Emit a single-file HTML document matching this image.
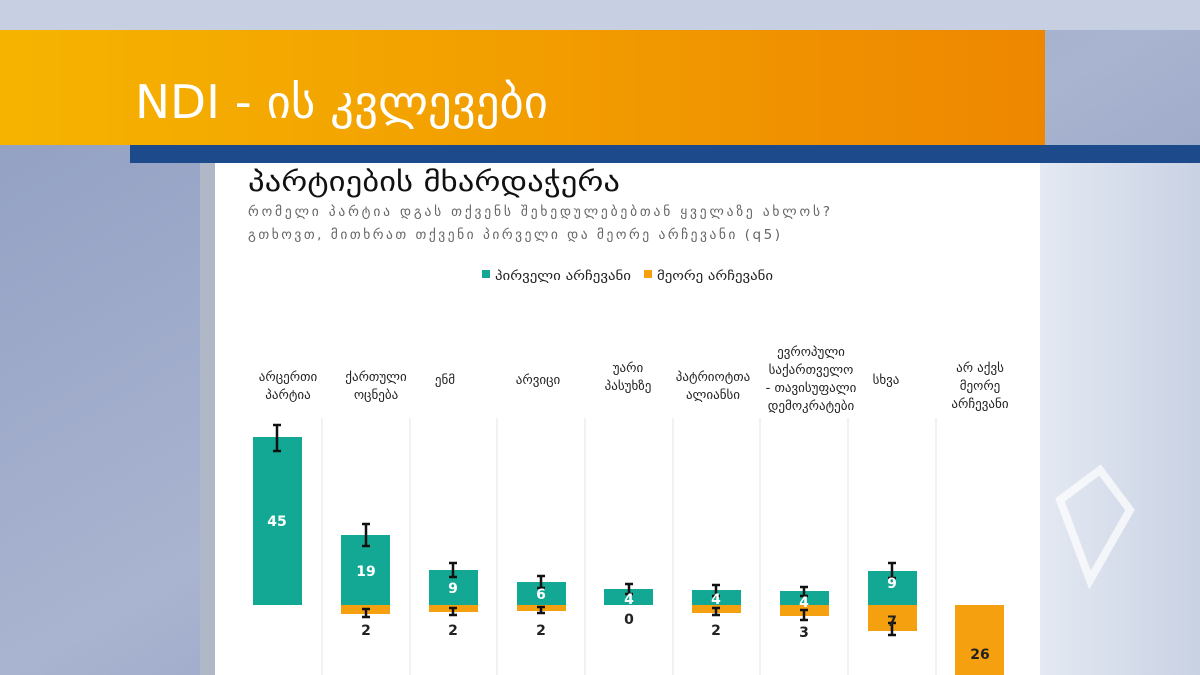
<!DOCTYPE html>
<html><head><meta charset="utf-8"><style>
html,body{margin:0;padding:0;width:1200px;height:675px;overflow:hidden}
svg{display:block}
text{font-family:"DejaVu Sans","Liberation Sans",sans-serif}
</style></head><body>
<svg width="1200" height="675" viewBox="0 0 1200 675" xmlns="http://www.w3.org/2000/svg">
<defs>
<linearGradient id="bg" x1="0" y1="0" x2="1" y2="1">
<stop offset="0" stop-color="#8e9cc0"/><stop offset="0.5" stop-color="#a9b4d0"/><stop offset="1" stop-color="#7f8fb6"/>
</linearGradient>
<linearGradient id="or" x1="0" y1="0" x2="1" y2="0">
<stop offset="0" stop-color="#f6b400"/><stop offset="1" stop-color="#ee8700"/>
</linearGradient>
<linearGradient id="rt" x1="0" y1="0" x2="1" y2="0">
<stop offset="0" stop-color="#e4e9f2"/><stop offset="1" stop-color="#c9d2e4"/>
</linearGradient>
</defs>
<rect width="1200" height="675" fill="url(#bg)"/>
<rect x="0" y="0" width="1200" height="30" fill="#c7cfe2"/>
<rect x="1040" y="145" width="160" height="530" fill="url(#rt)"/>
<path d="M1060 500 L1100 470 L1130 510 L1090 580 Z" fill="none" stroke="#ffffff" stroke-width="8" opacity="0.7"/>
<rect x="0" y="30" width="1045" height="115" fill="url(#or)"/>
<text x="135" y="118" font-size="46" fill="#fff" textLength="413" lengthAdjust="spacingAndGlyphs">NDI - ის კვლევები</text>
<rect x="130" y="145" width="1070" height="18" fill="#1d4a8a"/>
<rect x="200" y="163" width="15" height="512" fill="#b0b7c6"/>
<rect x="215" y="163" width="825" height="512" fill="#ffffff"/>
<text x="248" y="191" font-size="27" fill="#111" textLength="372" lengthAdjust="spacingAndGlyphs">პარტიების მხარდაჭერა</text>
<text x="248" y="216" font-size="13.5" fill="#666" textLength="582" lengthAdjust="spacing">რომელი პარტია დგას თქვენს შეხედულებებთან ყველაზე ახლოს?</text>
<text x="248" y="239" font-size="13.5" fill="#666" textLength="532" lengthAdjust="spacing">გთხოვთ, მითხრათ თქვენი პირველი და მეორე არჩევანი (q5)</text>
<rect x="482" y="270" width="8" height="8" fill="#13a893"/>
<text x="495" y="280" font-size="13" fill="#222" textLength="136" lengthAdjust="spacingAndGlyphs">პირველი არჩევანი</text>
<rect x="644" y="270" width="8" height="8" fill="#f5a00e"/>
<text x="657" y="280" font-size="13" fill="#222" textLength="116" lengthAdjust="spacingAndGlyphs">მეორე არჩევანი</text>
<g stroke="#e6e6e6" stroke-width="1">
<line x1="322" y1="418" x2="322" y2="675"/><line x1="410" y1="418" x2="410" y2="675"/>
<line x1="497" y1="418" x2="497" y2="675"/><line x1="585" y1="418" x2="585" y2="675"/>
<line x1="673" y1="418" x2="673" y2="675"/><line x1="760" y1="418" x2="760" y2="675"/>
<line x1="848" y1="418" x2="848" y2="675"/><line x1="936" y1="418" x2="936" y2="675"/>
</g>
<g font-size="13" fill="#222" text-anchor="middle">
<text x="288" y="381">არცერთი</text><text x="288" y="399">პარტია</text>
<text x="376" y="381">ქართული</text><text x="376" y="399">ოცნება</text>
<text x="445" y="384">ენმ</text>
<text x="538" y="384">არვიცი</text>
<text x="628" y="372">უარი</text><text x="628" y="390">პასუხზე</text>
<text x="713" y="381">პატრიოტთა</text><text x="713" y="399">ალიანსი</text>
<text x="811" y="356">ევროპული</text><text x="811" y="374">საქართველო</text><text x="811" y="392">- თავისუფალი</text><text x="811" y="410">დემოკრატები</text>
<text x="886" y="384">სხვა</text>
<text x="980" y="372">არ აქვს</text><text x="980" y="390">მეორე</text><text x="980" y="408">არჩევანი</text>
</g>
<g fill="#13a893">
<rect x="253" y="437" width="49" height="168"/>
<rect x="341" y="535" width="49" height="70"/>
<rect x="429" y="570" width="49" height="35"/>
<rect x="517" y="582" width="49" height="23"/>
<rect x="604" y="589" width="49" height="16"/>
<rect x="692" y="590" width="49" height="15"/>
<rect x="780" y="591" width="49" height="14"/>
<rect x="868" y="571" width="49" height="34"/>
</g>
<g fill="#f5a00e">
<rect x="341" y="605" width="49" height="9"/>
<rect x="429" y="605" width="49" height="7"/>
<rect x="517" y="605" width="49" height="6"/>
<rect x="692" y="605" width="49" height="8"/>
<rect x="780" y="605" width="49" height="11"/>
<rect x="868" y="605" width="49" height="26"/>
<rect x="955" y="605" width="49" height="70"/>
</g>
<g stroke="#111" stroke-width="2.5">
<path d="M277 425V451M273 425H281M273 451H281"/>
<path d="M366 524V546M362 524H370M362 546H370"/>
<path d="M453 563V577M449 563H457M449 577H457"/>
<path d="M541 576V588M537 576H545M537 588H545"/>
<path d="M629 584V594M625 584H633M625 594H633"/>
<path d="M716 585V596M712 585H720M712 596H720"/>
<path d="M804 587V596M800 587H808M800 596H808"/>
<path d="M892 563V578M888 563H896M888 578H896"/>
<path d="M366 609V617M362 609H370M362 617H370"/>
<path d="M453 608V615M449 608H457M449 615H457"/>
<path d="M541 607V613M537 607H545M537 613H545"/>
<path d="M716 608V615M712 608H720M712 615H720"/>
<path d="M804 610V620M800 610H808M800 620H808"/>
<path d="M892 623V635M888 623H896M888 635H896"/>
</g>
<g font-family="Liberation Serif,serif" font-weight="bold" font-size="14" text-anchor="middle">
<g fill="#fff">
<text x="277" y="526">45</text><text x="366" y="576">19</text><text x="453" y="593">9</text>
<text x="541" y="599">6</text><text x="629" y="604">4</text><text x="716" y="604">4</text>
<text x="804" y="607">4</text><text x="892" y="588">9</text>
</g>
<g fill="#222">
<text x="366" y="635">2</text><text x="453" y="635">2</text><text x="541" y="635">2</text>
<text x="629" y="624">0</text><text x="716" y="635">2</text><text x="804" y="637">3</text>
<text x="892" y="626">7</text><text x="980" y="659">26</text>
</g>
</g>
</svg>
</body></html>
